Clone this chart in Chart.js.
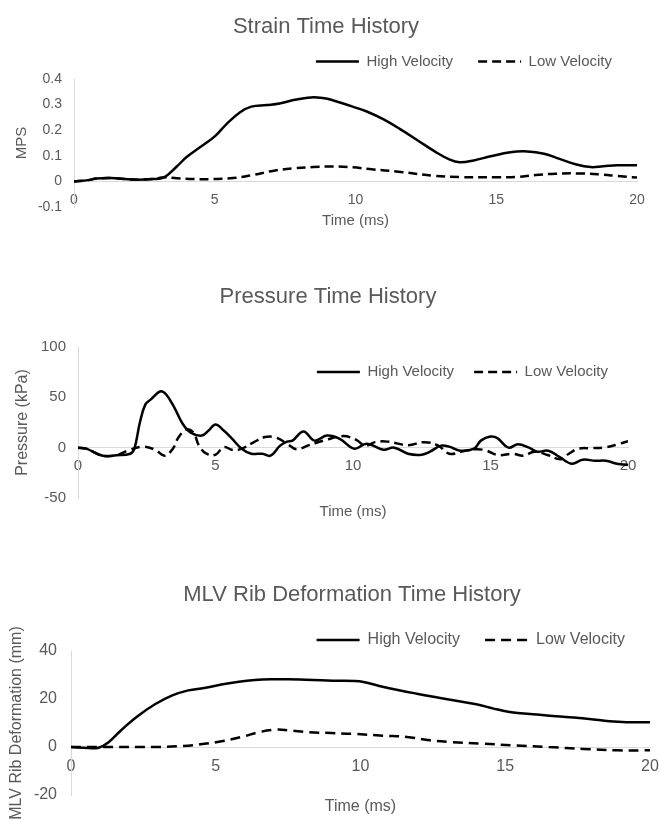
<!DOCTYPE html>
<html>
<head>
<meta charset="utf-8">
<script src="https://cdn.jsdelivr.net/npm/chart.js@4.4.1/dist/chart.umd.min.js"></script>
<style>
  body { margin: 0; background: #fff; }
  .box { position: absolute; left: 0; width: 659px; }
</style>
</head>
<body>
<div class="box" style="top:0;height:240px"><canvas id="strain"></canvas></div>
<div class="box" style="top:270px;height:260px"><canvas id="pressure"></canvas></div>
<div class="box" style="top:560px;height:260px"><canvas id="rib"></canvas></div>
<script>
// strain (MPS)
let strainHighT = [0, 0.5, 0.8, 1.3, 2.1, 2.8, 3.2, 3.65, 4.0, 4.5, 5.0, 5.4, 5.9, 6.3, 6.85, 7.3, 7.8, 8.3, 8.65, 9.0, 9.45, 9.9, 10.4, 11.0, 11.6, 12.2, 12.8, 13.35, 13.7, 14.2, 14.8, 15.5, 16.1, 16.7, 17.25, 17.85, 18.35, 18.8, 19.3, 20];
let strainHigh = [0, 0.005, 0.011, 0.013, 0.007, 0.009, 0.016, 0.058, 0.095, 0.135, 0.176, 0.222, 0.27, 0.292, 0.298, 0.304, 0.318, 0.327, 0.328, 0.323, 0.308, 0.292, 0.273, 0.242, 0.203, 0.161, 0.118, 0.085, 0.075, 0.082, 0.098, 0.114, 0.117, 0.108, 0.088, 0.066, 0.056, 0.059, 0.063, 0.063];
let strainLowT = [0, 0.5, 0.8, 1.3, 2.1, 2.8, 3.2, 3.65, 4.25, 4.95, 5.65, 6.35, 7.1, 7.8, 8.5, 9.2, 9.9, 10.5, 11.6, 12.8, 13.7, 15.1, 15.7, 16.4, 17.1, 18.0, 18.8, 19.3, 20];
let strainLow = [0, 0.005, 0.011, 0.013, 0.007, 0.009, 0.016, 0.012, 0.009, 0.009, 0.013, 0.025, 0.042, 0.051, 0.056, 0.058, 0.055, 0.048, 0.037, 0.022, 0.017, 0.016, 0.017, 0.025, 0.03, 0.031, 0.026, 0.021, 0.015];

// pressure (kPa)
let pressHighT = [0, 0.3, 0.9, 1.4, 1.9, 2.05, 2.25, 2.45, 2.65, 3.0, 3.2, 3.5, 3.8, 4.1, 4.5, 4.75, 5.0, 5.3, 5.6, 5.95, 6.3, 6.7, 7.0, 7.35, 7.6, 7.8, 8.2, 8.6, 9.05, 9.5, 10.05, 10.5, 11.1, 11.5, 12.0, 12.5, 12.8, 13.2, 13.5, 13.9, 14.4, 14.65, 15.0, 15.25, 15.65, 16.0, 16.4, 16.7, 17.1, 17.5, 17.95, 18.35, 18.8, 19.2, 19.6, 20];
let pressHigh = [0, -1, -8, -7.5, -6, -1, 25, 43, 48, 56, 53, 40, 24, 15, 12, 17, 23, 17, 9, -1, -6, -6, -8, 2, 6, 7, 16, 7, 12, 9, -1, 4, -2, 0, -6, -7, -4, 2, 1, -3, -1, 7, 11, 9.5, 0, 3.5, 0, -4, -3, -9, -16, -12, -13, -13, -16, -17];
let pressLowT = [0, 0.3, 0.9, 1.4, 1.8, 2.35, 2.8, 3.15, 3.45, 3.65, 3.95, 4.2, 4.4, 4.67, 5.0, 5.3, 5.65, 5.95, 6.4, 6.8, 7.2, 7.6, 7.95, 8.4, 9.05, 9.65, 10.1, 10.45, 10.8, 11.25, 12.0, 12.6, 13.1, 13.5, 14.0, 14.45, 14.8, 15.3, 15.8, 16.2, 16.6, 17.1, 17.55, 17.85, 18.2, 18.7, 19.2, 19.65, 20];
let pressLow = [0, -1, -8, -7.5, -3, 1, -2, -8, -1, 10, 18, 15, 2, -6, -7, 0.5, -2.5, -1, 5.5, 10.5, 10, 4, -1.5, 2.5, 8, 11.5, 8, 2, 5.5, 6, 2.5, 5.5, 2, -6, -3.5, -1.5, -2.5, -7.5, -6, -8, -4, -7.5, -11.5, -6, -1, -0.5, 0.5, 3.5, 6.5];

// rib deformation (mm)
let ribHighT = [0, 0.6, 0.95, 1.3, 1.75, 2.3, 2.9, 3.5, 4.05, 4.6, 5.2, 5.8, 6.35, 6.9, 7.5, 8.1, 8.65, 9.2, 9.8, 10.1, 10.8, 11.95, 13.1, 14.0, 14.6, 15.15, 15.95, 17.1, 17.9, 18.6, 19.2, 20];
let ribHigh = [0, -0.4, -0.3, 2, 7.2, 12.8, 17.8, 21.5, 23.6, 24.6, 26, 27.2, 27.9, 28.2, 28.2, 28, 27.8, 27.6, 27.5, 27.1, 25, 22.2, 19.7, 17.8, 16, 14.6, 13.6, 12.5, 11.7, 10.7, 10.3, 10.3];
let ribLowT = [0, 0.95, 2.9, 3.7, 4.4, 5.2, 5.9, 6.5, 7.05, 7.5, 8.2, 9.0, 9.7, 10.8, 11.6, 12.4, 13.1, 14.2, 15.4, 16.5, 17.7, 18.9, 19.8, 20];
let ribLow = [0, 0, 0, 0.3, 1, 2.4, 4.2, 6.2, 7.2, 7, 6.2, 5.8, 5.5, 4.7, 4.2, 2.8, 2.1, 1.4, 0.6, 0, -0.8, -1.4, -1.4, -1.4];

const GREY = '#595959';
const AXIS = '#d9d9d9';
Chart.defaults.font.family = "'Liberation Sans', Arial, sans-serif";
Chart.defaults.color = GREY;

// Excel puts the legend over the plot and the title off-centre; nudge them after layout
const boxShift = {
  id: 'boxShift',
  afterLayout(chart, args, opts) {
    const l = chart.legend;
    if (l && opts.legendDy) { l.top += opts.legendDy; l.bottom += opts.legendDy; }
    const t = chart.titleBlock;
    if (t && opts.titleDx) { t.left += opts.titleDx; t.right += opts.titleDx; }
  }
};

function pts(t, v) {
  return t.map((x, i) => ({ x: x, y: v[i] }));
}

function legendItems(chart) {
  return Chart.defaults.plugins.legend.labels.generateLabels(chart).map(item => {
    const ds = chart.data.datasets[item.datasetIndex];
    item.lineDash = ds.borderDash || [];
    item.lineWidth = ds.borderWidth;
    item.strokeStyle = ds.borderColor;
    return item;
  });
}

function drawChart(id, s) {
  new Chart(document.getElementById(id), {
    type: 'line',
    data: {
      datasets: [
        { label: 'High Velocity', data: pts(s.highT, s.high), borderColor: '#000', backgroundColor: '#000',
          borderWidth: 2.5, pointRadius: 0, tension: 0.4 },
        { label: 'Low Velocity', data: pts(s.lowT, s.low), borderColor: '#000', backgroundColor: '#000',
          borderWidth: 2.5, borderDash: s.dash, pointRadius: 0, tension: 0.4 }
      ]
    },
    options: {
      responsive: true,
      maintainAspectRatio: false,
      animation: false,
      layout: { padding: { left: 0, right: s.padR, top: 0, bottom: 0 } },
      plugins: {
        title: {
          display: true, text: s.title, color: GREY,
          font: { size: 22, weight: 'normal' },
          padding: { top: s.titleTop, bottom: s.titleBottom }
        },
        legend: {
          align: 'end',
          labels: {
            usePointStyle: true, pointStyle: 'line', pointStyleWidth: 43,
            padding: s.legendPad, color: GREY, font: { size: s.legendFont },
            generateLabels: legendItems
          }
        },
        boxShift: { legendDy: s.legendDy, titleDx: s.titleDx },
        tooltip: { enabled: false }
      },
      scales: {
        x: {
          type: 'linear', min: 0, max: 20, position: { y: 0 },
          grid: { display: false, drawTicks: false },
          border: { color: AXIS },
          ticks: { stepSize: 5, padding: s.xPad, color: GREY, font: { size: s.tickFont } },
          afterFit: sc => { sc.paddingLeft = 0; sc.paddingRight = 0; }
        },
        xt: {
          type: 'linear', min: 0, max: 20, position: 'bottom',
          grid: { display: false, drawTicks: false },
          border: { display: false },
          ticks: { display: false },
          title: { display: true, text: 'Time (ms)', color: GREY, font: { size: s.axisFont },
                   padding: { top: s.xtTop, bottom: s.xtBottom } },
          afterFit: sc => { sc.paddingLeft = 0; sc.paddingRight = 0; }
        },
        y: {
          min: s.yMin, max: s.yMax, position: 'left',
          grid: { display: false, drawTicks: false },
          border: { color: AXIS },
          ticks: { stepSize: s.yStep, padding: s.yPad, color: GREY, font: { size: s.tickFont } },
          title: { display: true, text: s.yTitle, color: GREY, font: { size: s.yTitleFont },
                   padding: { top: s.yTitleOff, bottom: 0 } },
          afterFit: sc => { sc.width = s.yWidth; sc.paddingTop = 0; sc.paddingBottom = 0; }
        }
      }
    },
    plugins: [boxShift]
  });
}

drawChart('strain', {
  title: 'Strain Time History', yTitle: 'MPS',
  highT: strainHighT, high: strainHigh, lowT: strainLowT, low: strainLow,
  yMin: -0.1, yMax: 0.4, yStep: 0.1, dash: [9, 5],
  padR: 22, yWidth: 74, titleTop: 13.8, titleBottom: -11.2, titleDx: 7.5,
  legendPad: 25, legendFont: 15, legendDy: 0,
  tickFont: 14, xPad: 10, yPad: 12, axisFont: 15, xtTop: 5, xtBottom: 10,
  yTitleFont: 15, yTitleOff: 13
});

drawChart('pressure', {
  title: 'Pressure Time History', yTitle: 'Pressure (kPa)',
  highT: pressHighT, high: pressHigh, lowT: pressLowT, low: pressLow,
  yMin: -50, yMax: 100, yStep: 50, dash: [9, 5],
  padR: 31, yWidth: 78, titleTop: 13.8, titleBottom: -8.2, titleDx: 14,
  legendPad: 20, legendFont: 15, legendDy: 42.5,
  tickFont: 15, xPad: 9, yPad: 12, axisFont: 15, xtTop: 5, xtBottom: 9,
  yTitleFont: 16, yTitleOff: 13
});

drawChart('rib', {
  title: 'MLV Rib Deformation Time History', yTitle: 'MLV Rib Deformation (mm)',
  highT: ribHighT, high: ribHigh, lowT: ribLowT, low: ribLow,
  yMin: -20, yMax: 40, yStep: 20, dash: [10, 6],
  padR: 9, yWidth: 71, titleTop: 21.8, titleBottom: -8.2, titleDx: 27,
  legendPad: 25, legendFont: 16, legendDy: 7,
  tickFont: 16, xPad: 10, yPad: 14, axisFont: 16, xtTop: 2.4, xtBottom: 3.4,
  yTitleFont: 16, yTitleOff: 7.4
});
</script>
</body>
</html>
